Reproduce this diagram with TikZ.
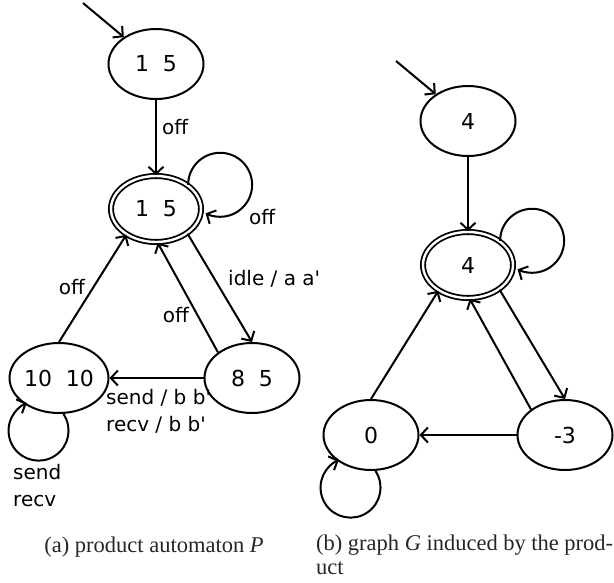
\documentclass[tikz,border=0pt]{standalone}
\usepackage{fontspec}
\setmainfont{Liberation Serif}
\newfontfamily\statefont{DejaVu Sans}
\usetikzlibrary{shapes.geometric,arrows.meta}

\begin{document}
\begin{tikzpicture}[x=1pt, y=1pt,
	state/.style={draw, ellipse, line width=2pt, minimum width=95pt, minimum height=70pt, inner sep=0pt, font=\statefont\fontsize{22}{26}\selectfont},
	accepting/.style={state, double, double distance=2.4pt, line width=1.8pt, minimum width=90pt, minimum height=66pt},
	edge/.style={line width=2pt, -{Straight Barb[length=7pt,width=15pt]}},
	lbl/.style={font=\statefont\fontsize{20}{27}\selectfont, inner sep=0pt, align=left},
	caption/.style={font=\fontsize{22.5}{24}\selectfont, inner sep=0pt, color=black!85, align=left}]
			%%%%% START %%%%%
			\useasboundingbox (0,0) rectangle (614,-582);
			
			% (a) product automaton
			\node[state] (s0) at (156,-64) {1\ \ 5};
			\node[accepting] (s1) at (156,-209) {1\ \ 5};
			\node[state] (s2) at (59,-378) {10\ \ 10};
			\node[state] (s3) at (252,-378) {8\ \ 5};
			\coordinate (s0in) at (83,-3);
			
			\draw[edge] (s0in) -- (s0);
			\draw[edge] (s0) -- (s1);
			\draw[edge] (s1.37) arc (180:-117:32);
			\draw[edge] (s2.north) -- (s1.-139);
			\draw[edge] (s3.143) -- (s1.-87);
			\draw[edge] (s1.-38) -- (s3.north);
			\draw[edge] (s3) -- (s2);
			\draw[edge] (s2.-83) arc (34:-247:30);
			
			\node[lbl, anchor=west] (l01) at (162,-127) {off};
			\node[lbl, anchor=west] (l11) at (249,-217) {off};
			\node[lbl] (l21) at (72,-287) {off};
			\node[lbl] (l31) at (176,-315) {off};
			\node[lbl, anchor=west] (l13) at (228,-279) {idle / a a'};
			\node[lbl, anchor=west] (l32) at (106,-411) {send / b b'\\recv / b b'};
			\node[lbl, anchor=west] (l22) at (13,-486) {send\\recv};
			
			% (b) induced graph
			\node[state] (g0) at (468,-121) {4};
			\node[accepting] (g1) at (468,-265) {4};
			\node[state] (g2) at (371,-435) {0};
			\node[state] (g3) at (565,-435) {-3};
			\coordinate (g0in) at (396,-61);
			
			\draw[edge] (g0in) -- (g0);
			\draw[edge] (g0) -- (g1);
			\draw[edge] (g1.37) arc (180:-117:32);
			\draw[edge] (g2.north) -- (g1.-139);
			\draw[edge] (g3.143) -- (g1.-87);
			\draw[edge] (g1.-38) -- (g3.north);
			\draw[edge] (g3) -- (g2);
			\draw[edge] (g2.-83) arc (34:-247:30);
			
			% captions
			\node[caption, anchor=base] (capa) at (154,-552) {(a) product automaton \textit{P}};
			\node[caption, anchor=north west] (capb) at (316,-535) {\makebox[297pt][s]{(b) graph \textit{G} induced by the prod-}\\uct};
			%%%%% END %%%%%
		\end{tikzpicture}
\end{document}
